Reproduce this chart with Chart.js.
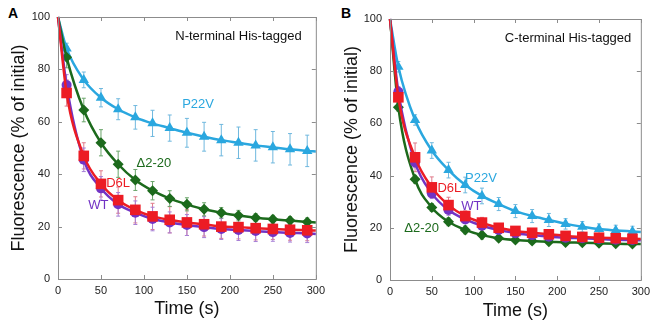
<!DOCTYPE html>
<html>
<head>
<meta charset="utf-8">
<script src="https://cdn.jsdelivr.net/npm/chart.js@4.4.1/dist/chart.umd.min.js"></script>
<style>
  body { margin: 0; background: #fff; width: 655px; height: 324px; overflow: hidden; position: relative; font-family: "Liberation Sans", Arial, sans-serif; }
  .panel { position: absolute; top: 0; }
  .letter { position: absolute; font: bold 14px "Liberation Sans", Arial, sans-serif; }
</style>
</head>
<body>
<div class="letter" style="left:8px;top:5px">A</div>
<div class="letter" style="left:341px;top:5px">B</div>
<div class="panel" style="left:0px"><canvas id="chartA" width="330" height="324"></canvas></div>
<div class="panel" style="left:330px"><canvas id="chartB" width="325" height="324"></canvas></div>
<script>
// sample times (s)
const times = [10, 30, 50, 70, 90, 110, 130, 150, 170, 190, 210, 230, 250, 270, 290];
const xTicks = [0, 50, 100, 150, 200, 250, 300];
const yTicks = [0, 20, 40, 60, 80, 100];

// Panel A - N-terminal His-tagged
const aWT    = [74, 45.5, 34.6, 28.5, 25.3, 22.9, 21.6, 20.6, 19.8, 19.1, 18.7, 18.3, 17.9, 17.6, 17.4];
const aWTerr = [4, 4.5, 4.5, 4.5, 4.5, 4.5, 4, 4, 4, 4, 4, 4, 3.5, 3.5, 3.5];
const aD6L    = [71, 47, 36.3, 30.1, 26.4, 23.9, 22.6, 21.6, 20.9, 20, 19.8, 19.4, 19.1, 18.8, 18.6];
const aD6Lerr = [5, 5, 5, 5, 5, 5, 5, 5, 4.5, 4.5, 4.5, 4.5, 4, 4, 4];
const aD220    = [84.6, 64.5, 52, 43.8, 37.8, 33.7, 30.7, 28.5, 26.6, 25.3, 24.2, 23.4, 22.8, 22.3, 21.8];
const aD220err = [4, 4.5, 5, 5, 4, 3.5, 3, 2.5, 2.5, 2, 2, 1.5, 1.5, 1.5, 1.5];
const aP22V    = [88, 76, 69.2, 64.8, 61.7, 59.4, 57.6, 55.8, 54.3, 53, 52, 51, 50.3, 49.5, 48.9];
const aP22Verr = [2, 3, 3.5, 4, 4.5, 5, 5, 5.5, 5.5, 6, 6, 6, 6, 6, 6];
const aEnd = { WT: 17.2, D6L: 18.5, D220: 21.6, P22V: 48.7 };

// Panel B - C-terminal His-tagged
const bWT    = [72.1, 45, 33.2, 26.8, 23.2, 20.8, 19.2, 17.9, 17.2, 16.6, 16.2, 16, 15.7, 15.4, 15.3];
const bWTerr = [2, 2, 2, 2, 1.5, 1.5, 1.5, 1.5, 1.5, 1.5, 1.5, 1.5, 1.5, 1.5, 1.5];
const bD6L    = [70, 47, 35.5, 28.7, 24.5, 22, 20, 18.8, 18.1, 17.5, 16.9, 16.5, 16.2, 16, 15.8];
const bD6Lerr = [3, 5.5, 4, 3, 2, 2, 1.5, 1.5, 1.5, 1.5, 1.5, 1.5, 1.5, 1.5, 1.5];
const bD220    = [66.2, 38.6, 27.8, 22.3, 19.2, 17.2, 16, 15.3, 14.9, 14.7, 14.4, 14.3, 14.1, 13.9, 13.8];
const bD220err = [1.5, 1.5, 1.5, 1.5, 1.5, 1.5, 1, 1, 1, 1, 1, 1, 1, 1, 1];
const bP22V    = [81.7, 61.3, 49.6, 42.1, 36.4, 32.2, 29.1, 26.4, 24.5, 23, 21.5, 20.4, 19.5, 19, 18.6];
const bP22Verr = [2, 2, 3, 3, 3, 3, 2.5, 2.5, 2.5, 2.5, 2, 2, 2, 2, 2];
const bEnd = { WT: 15.2, D6L: 15.7, D220: 13.8, P22V: 18.4 };

const colors = {
  WT:   { line: '#7233c4', err: '#a77fd6' },
  D6L:  { line: '#ec1c24', err: '#e07b8a' },
  D220: { line: '#1c6a1c', err: '#6aa56a' },
  P22V: { line: '#2aa7df', err: '#6fb8de' }
};

function series(name, vals, errs, endVal, shape, radius) {
  const pts = [{ x: 0, y: 100 }].concat(times.map((t, i) => ({ x: t, y: vals[i] })), [{ x: 300, y: endVal }]);
  const radii = pts.map((p, i) => (i === 0 || i === pts.length - 1) ? 0 : radius);
  return {
    label: name,
    data: pts,
    errors: errs,
    borderColor: colors[name].line,
    backgroundColor: colors[name].line,
    errColor: colors[name].err,
    borderWidth: 2.5,
    pointStyle: shape,
    pointRadius: radii,
    pointBorderWidth: 0,
    cubicInterpolationMode: 'monotone',
    clip: false
  };
}

const errorBars = {
  id: 'errorBars',
  beforeDatasetsDraw(chart) {
    const ctx = chart.ctx, xs = chart.scales.x, ys = chart.scales.y;
    ctx.save();
    ctx.lineWidth = 1;
    chart.data.datasets.forEach(ds => {
      ctx.strokeStyle = ds.errColor;
      times.forEach((t, i) => {
        const v = ds.data[i + 1].y, e = ds.errors[i];
        const px = xs.getPixelForValue(t);
        const top = ys.getPixelForValue(v + e), bot = ys.getPixelForValue(v - e);
        ctx.beginPath();
        ctx.moveTo(px, top); ctx.lineTo(px, bot);
        ctx.moveTo(px - 2, top); ctx.lineTo(px + 2, top);
        ctx.moveTo(px - 2, bot); ctx.lineTo(px + 2, bot);
        ctx.stroke();
      });
    });
    ctx.restore();
  }
};

const frame = {
  id: 'frame',
  afterDraw(chart) {
    const ctx = chart.ctx, a = chart.chartArea, xs = chart.scales.x, ys = chart.scales.y;
    ctx.save();
    ctx.strokeStyle = '#8c8c8c';
    ctx.lineWidth = 1;
    ctx.strokeRect(a.left + 0.5, a.top + 0.5, a.right - a.left, a.bottom - a.top);
    ctx.beginPath();
    xTicks.forEach(t => {
      const px = Math.round(xs.getPixelForValue(t)) + 0.5;
      ctx.moveTo(px, a.bottom); ctx.lineTo(px, a.bottom - 4);
      ctx.moveTo(px, a.top); ctx.lineTo(px, a.top + 4);
    });
    yTicks.forEach(v => {
      const py = Math.round(ys.getPixelForValue(v)) + 0.5;
      ctx.moveTo(a.left, py); ctx.lineTo(a.left + 4, py);
      ctx.moveTo(a.right, py); ctx.lineTo(a.right - 4, py);
    });
    ctx.stroke();
    // text labels
    ctx.textAlign = 'center';
    ctx.textBaseline = 'middle';
    chart.options.plugins.frame.labels.forEach(l => {
      ctx.fillStyle = l.color;
      ctx.font = '13px "Liberation Sans", Arial, sans-serif';
      ctx.fillText(l.text, xs.getPixelForValue(l.x), ys.getPixelForValue(l.y));
    });
    ctx.restore();
  }
};

function makeChart(id, dsets, labels, geo) {
  return new Chart(document.getElementById(id), {
    type: 'line',
    data: { datasets: dsets },
    plugins: [errorBars, frame],
    options: {
      responsive: false,
      animation: false,
      layout: { padding: { top: geo.top, right: geo.right, left: 0, bottom: 0 } },
      plugins: { legend: { display: false }, tooltip: { enabled: false }, frame: { labels: labels } },
      scales: {
        x: {
          type: 'linear', min: 0, max: 300,
          afterBuildTicks: s => { s.ticks = xTicks.map(v => ({ value: v })); },
          afterFit: s => { s.height = geo.xh; },
          grid: { display: false, drawTicks: false },
          border: { display: false },
          ticks: { padding: 5, color: '#222', font: { size: 11, family: '"Liberation Sans", Arial' }, maxRotation: 0 },
          title: { display: true, text: 'Time (s)', color: '#111', padding: { top: 0, bottom: geo.xtp }, font: { size: 18, weight: 'normal', family: '"Liberation Sans", Arial' } }
        },
        y: {
          type: 'linear', min: 0, max: 100,
          afterBuildTicks: s => { s.ticks = yTicks.map(v => ({ value: v })); },
          afterFit: s => { s.width = geo.yw; },
          grid: { display: false, drawTicks: false },
          border: { display: false },
          ticks: { padding: 8, color: '#222', font: { size: 11, family: '"Liberation Sans", Arial' } },
          title: { display: true, text: 'Fluorescence (% of initial)', color: '#111', padding: { top: geo.ytp, bottom: 0 }, font: { size: 18, weight: 'normal', family: '"Liberation Sans", Arial' } }
        }
      }
    }
  });
}

// first dataset is painted last (on top)
makeChart('chartA', [
  series('D6L', aD6L, aD6Lerr, aEnd.D6L, 'rect', 7.5),
  series('WT', aWT, aWTerr, aEnd.WT, 'circle', 5),
  series('D220', aD220, aD220err, aEnd.D220, 'rectRot', 5.5),
  series('P22V', aP22V, aP22Verr, aEnd.P22V, 'triangle', 6)
], [
  { text: 'N-terminal His-tagged', x: 210, y: 92.4, color: '#111' },
  { text: 'P22V', x: 163, y: 66.8, color: colors.P22V.line },
  { text: '\u03942-20', x: 111.5, y: 44.3, color: colors.D220.line },
  { text: 'D6L', x: 70, y: 36.3, color: colors.D6L.line },
  { text: 'WT', x: 47, y: 27.9, color: colors.WT.line }
], { top: 17, right: 11, xh: 45, yw: 58, xtp: 4, ytp: 8 });

makeChart('chartB', [
  series('D6L', bD6L, bD6Lerr, bEnd.D6L, 'rect', 7.5),
  series('WT', bWT, bWTerr, bEnd.WT, 'circle', 5),
  series('D220', bD220, bD220err, bEnd.D220, 'rectRot', 5.5),
  series('P22V', bP22V, bP22Verr, bEnd.P22V, 'triangle', 6)
], [
  { text: 'C-terminal His-tagged', x: 213, y: 92.7, color: '#111' },
  { text: 'P22V', x: 108.8, y: 39.1, color: colors.P22V.line },
  { text: 'D6L', x: 71, y: 34.9, color: colors.D6L.line },
  { text: 'WT', x: 97.4, y: 28, color: colors.WT.line },
  { text: '\u03942-20', x: 37.8, y: 19.9, color: colors.D220.line }
], { top: 19, right: 3, xh: 44, yw: 60, xtp: 2, ytp: 11 });
</script>
</body>
</html>
